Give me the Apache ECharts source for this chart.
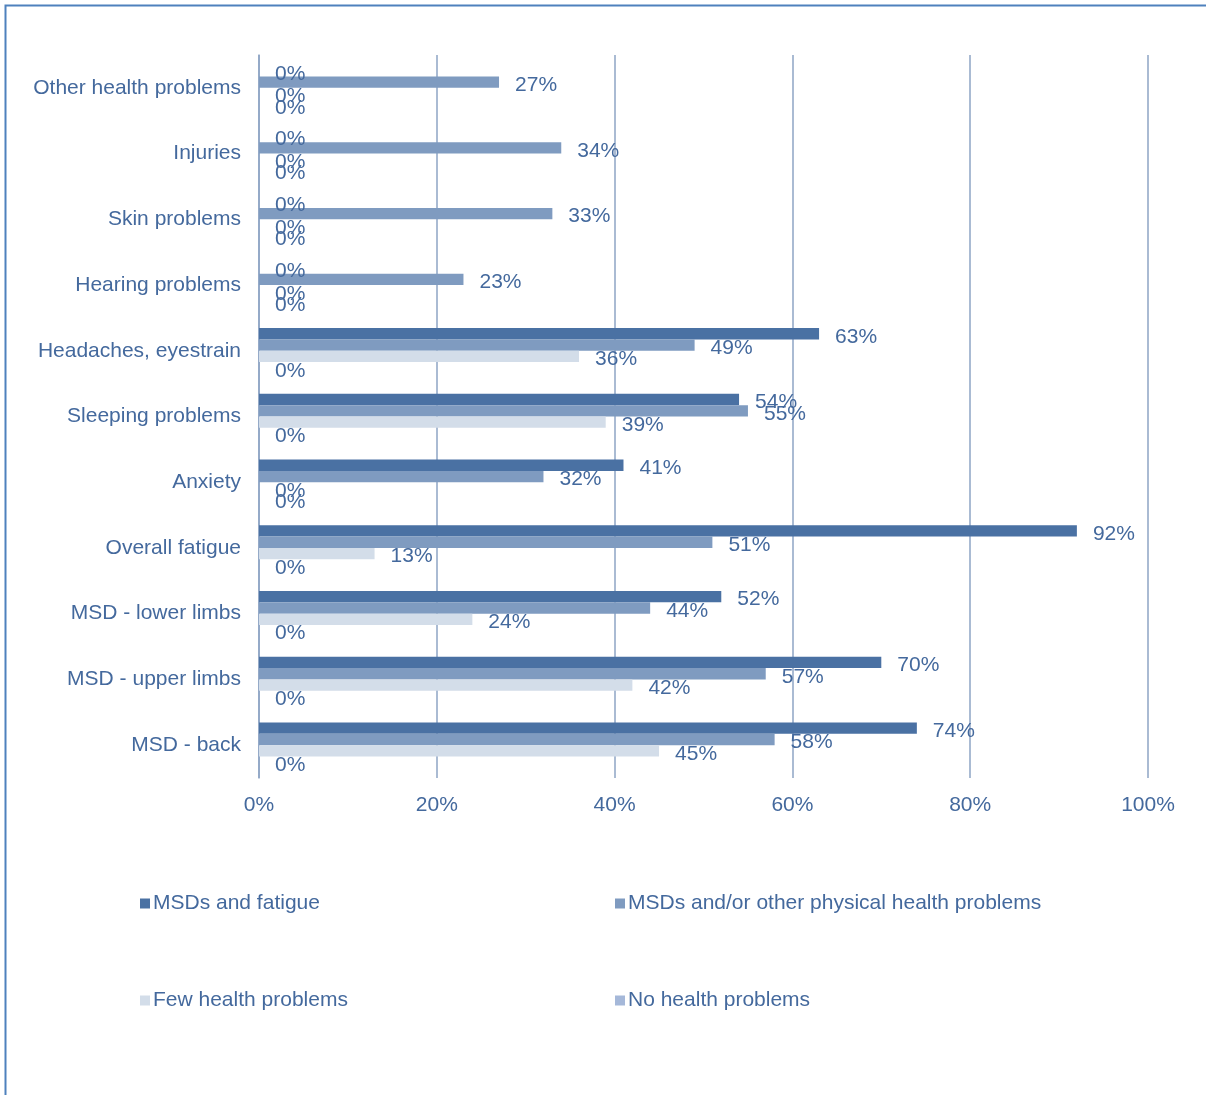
<!DOCTYPE html>
<html><head><meta charset="utf-8">
<script src="https://cdn.jsdelivr.net/npm/echarts@6/dist/echarts.min.js"></script>
<style>html,body{margin:0;padding:0;background:#fff;}#c{width:1206px;height:1095px;}</style>
</head><body><div id="c"></div>
<script>
const categories = ["Other health problems","Injuries","Skin problems","Hearing problems","Headaches, eyestrain","Sleeping problems","Anxiety","Overall fatigue","MSD - lower limbs","MSD - upper limbs","MSD - back"];
const seriesNames = ["MSDs and fatigue","MSDs and/or other physical health problems","Few health problems","No health problems"];
const msdsFatigue = [0,0,0,0,63,54,41,92,52,70,74];
const msdsOther = [27,34,33,23,49,55,32,51,44,57,58];
const fewProblems = [0,0,0,0,36,39,0,13,24,42,45];
const noProblems = [0,0,0,0,0,0,0,0,0,0,0];
const xTicks = [0,20,40,60,80,100];

const colors = ["#4a71a3","#7f9bc0","#d3dde9","#a5b8d9"];
const txt = "#44699d";
const font = "'Liberation Sans', Arial, sans-serif";
const values = [msdsFatigue, msdsOther, fewProblems, noProblems];

const chart = echarts.init(document.getElementById('c'), null, {renderer:'canvas'});
const legendPos = [[135,888],[610,888],[135,985],[610,985]];
chart.setOption({
  animation:false,
  backgroundColor:'#fff',
  textStyle:{fontFamily:font},
  graphic:[{type:'rect',shape:{x:5.5,y:5.5,width:1300,height:1200},style:{fill:null,stroke:'#4f81bd',lineWidth:2},silent:true}],
  grid:{left:259,right:58,top:55,bottom:317,containLabel:false},
  legend: seriesNames.map((n,i)=>({data:[n],left:legendPos[i][0],top:legendPos[i][1],icon:'rect',itemWidth:10,itemHeight:10,itemGap:0,
    textStyle:{color:txt,fontSize:21,fontFamily:font,padding:[0,0,0,-2]},selectedMode:false})),
  xAxis:{type:'value',min:0,max:100,interval:20,
    axisLine:{show:false},axisTick:{show:false},
    axisLabel:{formatter:v=>v+'%',color:txt,fontSize:21,margin:17,fontFamily:font},
    splitLine:{show:true,lineStyle:{color:'#8ea5c5',width:1.5}}},
  yAxis:{type:'category',data:categories,inverse:true,
    axisLine:{show:true,lineStyle:{color:'#8ea5c5',width:1.5}},axisTick:{show:false},
    axisLabel:{color:txt,fontSize:21,margin:18,fontFamily:font,padding:[4,0,0,0]}},
  series: seriesNames.map((n,i)=>({
    name:n,type:'bar',data:values[i],barGap:'0%',barCategoryGap:'31%',
    itemStyle:{color:colors[i]},
    label:{show:true,position:'right',distance:16,offset:[0,3],formatter:p=>p.value+'%',color:txt,fontSize:21,fontFamily:font}
  }))
});
</script></body></html>
